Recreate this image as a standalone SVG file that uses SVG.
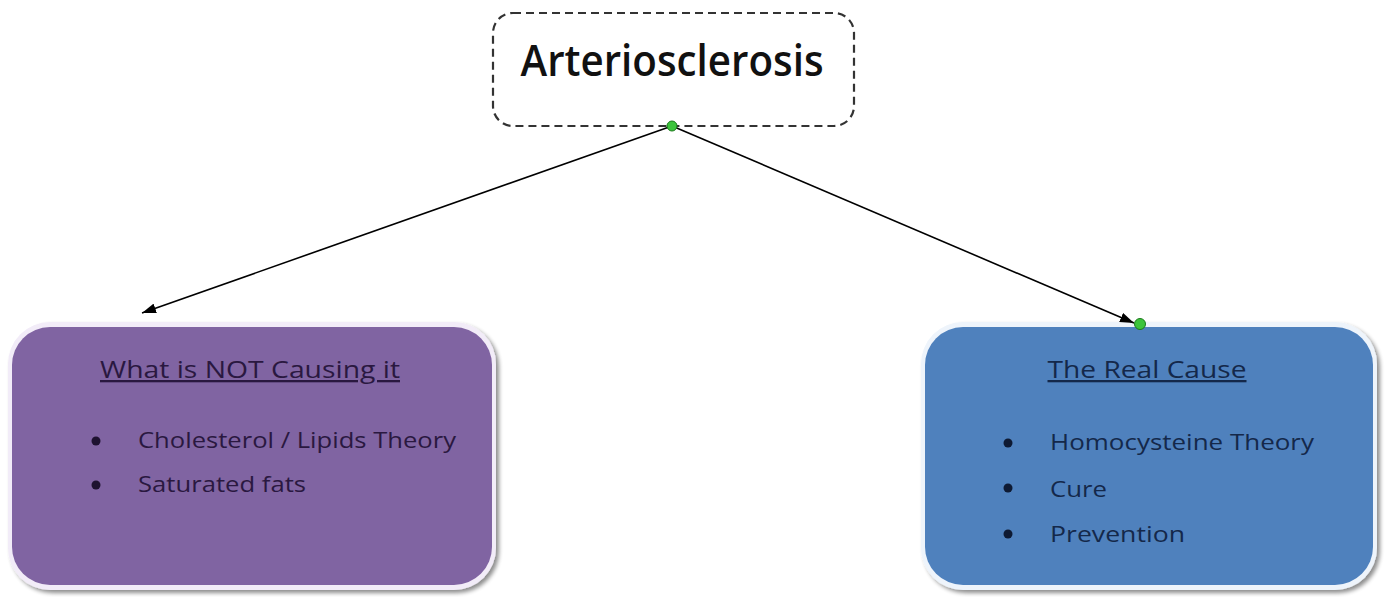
<svg xmlns="http://www.w3.org/2000/svg" width="1392" height="597" viewBox="0 0 1392 597">
<defs>
<marker id="arr" viewBox="0 0 14 10" refX="14" refY="5" markerWidth="14" markerHeight="10" markerUnits="userSpaceOnUse" orient="auto">
<path d="M0,0 L14,5 L0,10 z" fill="#000"/>
</marker>
<filter id="sh" x="-5%" y="-5%" width="112%" height="115%">
<feGaussianBlur in="SourceAlpha" stdDeviation="2"/>
<feOffset dx="3" dy="3"/>
<feComponentTransfer><feFuncA type="linear" slope="0.45"/></feComponentTransfer>
<feMerge><feMergeNode/><feMergeNode in="SourceGraphic"/></feMerge>
</filter>
</defs>
<style>
.t{font-family:"Open Sans","Liberation Sans",sans-serif;}
.title{font-size:43px;font-weight:600;fill:#111;}
.head{font-size:23px;text-decoration:underline;}
.item{font-size:22px;}
.conn{stroke:#000;stroke-width:1.6;fill:none;}
.dot{fill:#3cc43c;stroke:#1a7a1a;stroke-width:1;}
</style>
<rect width="1392" height="597" fill="#fff"/>
<g id="node-arteriosclerosis">
<rect x="493" y="13" width="361" height="113" rx="20" fill="#fff" stroke="#333" stroke-width="2.2" stroke-dasharray="8,5"/>
<text class="t title" x="672" y="76" text-anchor="middle" textLength="303" lengthAdjust="spacingAndGlyphs">Arteriosclerosis</text>
</g>
<g id="node-not-causing">
<rect x="8" y="322" width="488" height="268" rx="42" fill="#f2ecf8" filter="url(#sh)"/>
<rect x="12" y="327" width="480" height="258" rx="38" fill="#8064a2"/>
<text class="t head" x="250" y="378" text-anchor="middle" fill="#2a1840" textLength="300" lengthAdjust="spacingAndGlyphs">What is NOT Causing it</text>
<circle cx="96" cy="441" r="4.5" fill="#1e1230"/>
<text class="t item" x="138" y="448" fill="#2a1840" textLength="318" lengthAdjust="spacingAndGlyphs">Cholesterol / Lipids Theory</text>
<circle cx="96" cy="485" r="4.5" fill="#1e1230"/>
<text class="t item" x="138" y="492" fill="#2a1840" textLength="168" lengthAdjust="spacingAndGlyphs">Saturated fats</text>
</g>
<g id="node-real-cause">
<rect x="921" y="322" width="456" height="268" rx="42" fill="#eef4fb" filter="url(#sh)"/>
<rect x="925" y="327" width="448" height="258" rx="38" fill="#4f81bd"/>
<text class="t head" x="1147" y="378" text-anchor="middle" fill="#14284a" textLength="199" lengthAdjust="spacingAndGlyphs">The Real Cause</text>
<circle cx="1008" cy="443" r="4.5" fill="#0e1a33"/>
<text class="t item" x="1050" y="450" fill="#14284a" textLength="264" lengthAdjust="spacingAndGlyphs">Homocysteine Theory</text>
<circle cx="1008" cy="488" r="4.5" fill="#0e1a33"/>
<text class="t item" x="1050" y="497" fill="#14284a" textLength="57" lengthAdjust="spacingAndGlyphs">Cure</text>
<circle cx="1008" cy="534" r="4.5" fill="#0e1a33"/>
<text class="t item" x="1050" y="542" fill="#14284a" textLength="135" lengthAdjust="spacingAndGlyphs">Prevention</text>
</g>
<g id="connectors">
<line class="conn" x1="672" y1="126" x2="142" y2="313" marker-end="url(#arr)"/>
<line class="conn" x1="672" y1="126" x2="1134" y2="323" marker-end="url(#arr)"/>
<circle class="dot" cx="672" cy="126" r="5"/>
<circle class="dot" cx="1140" cy="324" r="5.5"/>
</g>
</svg>
